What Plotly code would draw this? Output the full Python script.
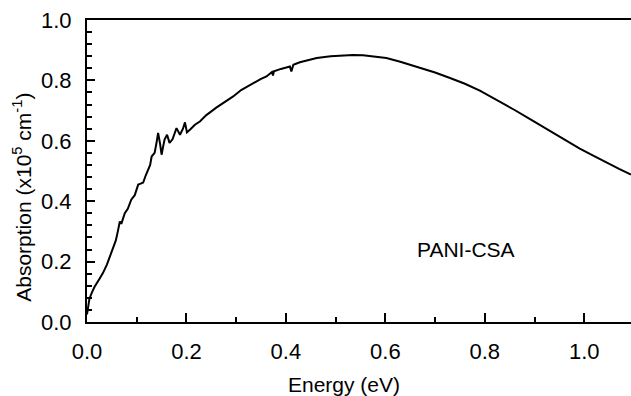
import plotly.graph_objects as go

energy = [0.0, 0.002, 0.005, 0.01, 0.015, 0.024, 0.032, 0.04, 0.046, 0.052, 0.058, 0.062,
          0.066, 0.069, 0.076, 0.082, 0.089, 0.096, 0.103, 0.108, 0.113, 0.118, 0.123, 0.127,
          0.13, 0.136, 0.140, 0.143, 0.147, 0.150, 0.153, 0.156, 0.161, 0.166, 0.172, 0.18,
          0.187, 0.193, 0.197, 0.201, 0.208, 0.217, 0.227, 0.24, 0.26, 0.277, 0.294, 0.31,
          0.33, 0.35, 0.361, 0.372, 0.374, 0.376, 0.39, 0.405, 0.408, 0.411, 0.415, 0.428,
          0.445, 0.462, 0.49, 0.515, 0.535, 0.555, 0.58, 0.602, 0.63, 0.663, 0.70, 0.73,
          0.76, 0.79, 0.83, 0.86, 0.891, 0.92, 0.944, 0.97, 0.991, 1.02, 1.045, 1.07, 1.094]

absorption = [0.025, 0.05, 0.078, 0.098, 0.116, 0.14, 0.162, 0.19, 0.215, 0.24, 0.27, 0.30,
              0.333, 0.325, 0.36, 0.375, 0.405, 0.42, 0.455, 0.458, 0.462, 0.485, 0.505, 0.52,
              0.548, 0.56, 0.595, 0.626, 0.59, 0.554, 0.58, 0.604, 0.62, 0.593, 0.605, 0.642,
              0.62, 0.64, 0.661, 0.628, 0.638, 0.653, 0.664, 0.685, 0.71, 0.728, 0.747, 0.768,
              0.787, 0.805, 0.813, 0.828, 0.816, 0.83, 0.838, 0.846, 0.846, 0.83, 0.852, 0.86,
              0.868, 0.874, 0.88, 0.883, 0.884, 0.883, 0.879, 0.874, 0.862, 0.846, 0.826, 0.808,
              0.789, 0.766, 0.731, 0.702, 0.672, 0.643, 0.619, 0.594, 0.574, 0.549, 0.527, 0.507, 0.488]

x_tickvals = [0.0, 0.2, 0.4, 0.6, 0.8, 1.0]
x_ticktext = ["0.0", "0.2", "0.4", "0.6", "0.8", "1.0"]
y_tickvals = [0.0, 0.2, 0.4, 0.6, 0.8, 1.0]
y_ticktext = ["0.0", "0.2", "0.4", "0.6", "0.8", "1.0"]

FONT = "Liberation Sans, Arial, sans-serif"
FS = 21
TICKFS = 22

fig = go.Figure()
fig.add_trace(go.Scatter(x=energy, y=absorption, mode="lines",
                         line=dict(color="black", width=2), showlegend=False,
                         hoverinfo="skip"))

fig.update_layout(
    width=631, height=396,
    margin=dict(l=87, r=0, t=20, b=74),
    paper_bgcolor="white", plot_bgcolor="white",
    font=dict(family=FONT, size=FS, color="black"),
    xaxis=dict(range=[0, 1.094], showgrid=False, zeroline=False,
               showline=True, linecolor="black", linewidth=2, mirror=True,
               ticks="inside", ticklen=9, tickwidth=1.5, tickcolor="black",
               tickvals=x_tickvals, ticktext=x_ticktext,
               tickfont=dict(size=TICKFS),
               ticklabelstandoff=9,
               minor=dict(ticks="inside", ticklen=5, tickwidth=1.5, tickcolor="black",
                          dtick=0.1, showgrid=False)),
    yaxis=dict(range=[0, 1.0], showgrid=False, zeroline=False,
               showline=True, linecolor="black", linewidth=2,
               ticks="inside", ticklen=8, tickwidth=1.5, tickcolor="black",
               tickvals=y_tickvals, ticktext=y_ticktext,
               tickfont=dict(size=TICKFS),
               ticklabelstandoff=9,
               minor=dict(ticks="inside", ticklen=5, tickwidth=1.5, tickcolor="black",
                          dtick=0.04, showgrid=False)),
    annotations=[
        dict(text="PANI-CSA", x=0.762, y=0.239, xref="x", yref="y",
             showarrow=False, font=dict(size=FS)),
        dict(text="Energy (eV)", x=0.517, y=-0.208, xref="x", yref="paper",
             yanchor="middle", showarrow=False, font=dict(size=FS)),
        dict(text="Absorption (x10<sup>5</sup> cm<sup>-1</sup>)", x=-0.1186, y=0.413,
             xref="paper", yref="y", textangle=-90, xanchor="center", yanchor="middle",
             showarrow=False, font=dict(size=FS)),
    ],
)

fig.write_html("out.html")
